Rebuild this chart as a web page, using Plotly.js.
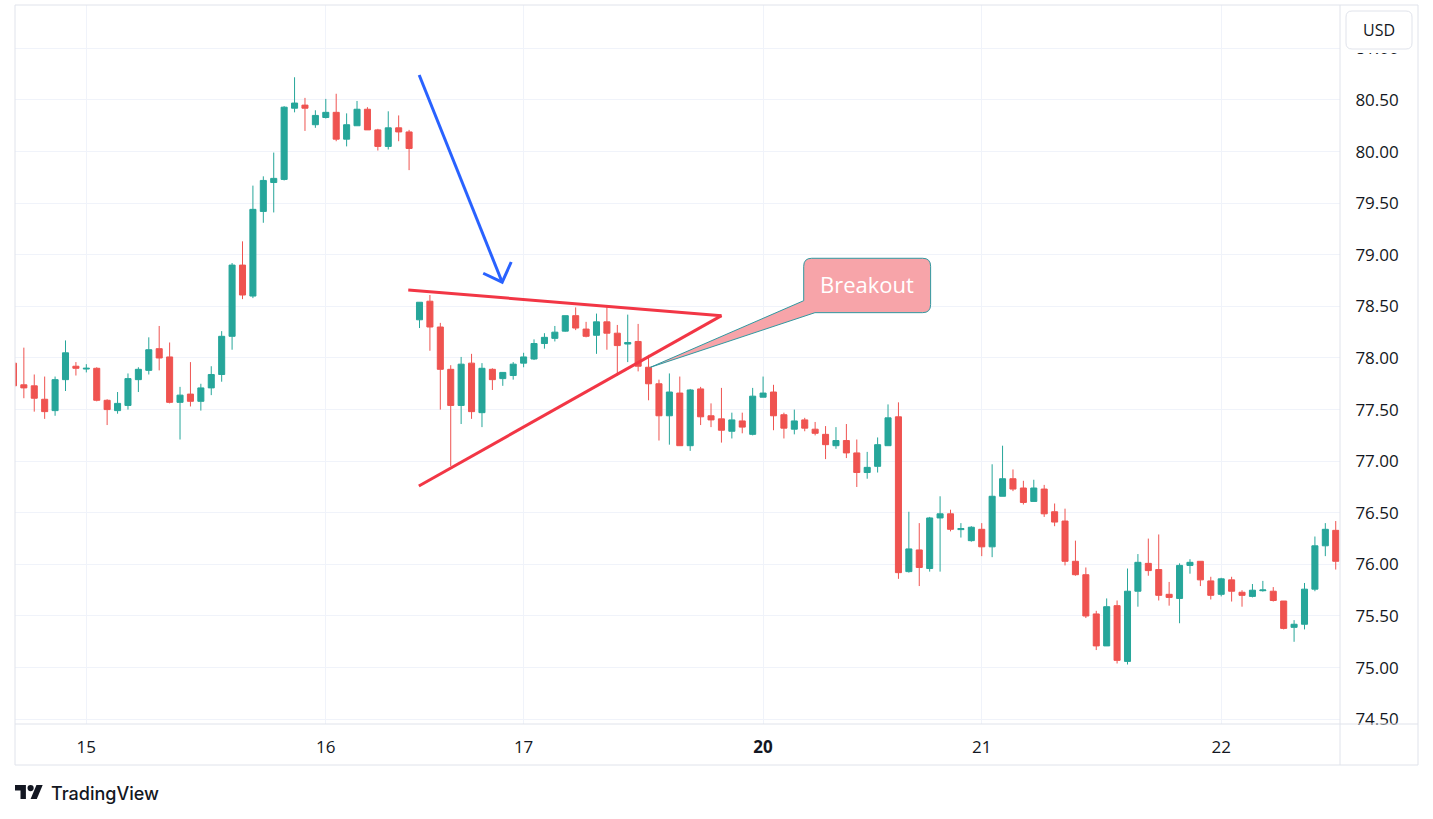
<!DOCTYPE html>
<html><head><meta charset="utf-8">
<script src="https://cdn.plot.ly/plotly-3.0.1.min.js"></script>
<style>html,body{margin:0;padding:0;background:#fff;overflow:hidden}#chart{width:1433px;height:819px}</style>
</head><body><div id="chart"></div>
<script>
// ---- data (hourly bars) ----
const barCount = 128;
const barIndex = Array.from({length: barCount}, (_, i) => i);
const openPx = [77.95,77.74,77.73,77.60,77.49,77.79,77.92,77.893,77.90,77.59,
77.49,77.54,77.79,77.88,78.09,78.01,77.57,77.65,77.58,77.71,
77.84,78.21,78.90,78.60,79.42,79.70,79.73,80.42,80.45,80.26,
80.33,80.38,80.12,80.25,80.41,80.21,80.05,80.23,80.19,78.37,
78.55,78.30,77.89,77.54,77.95,77.47,77.89,77.80,77.83,77.95,
77.99,78.14,78.19,78.26,78.41,78.28,78.22,78.35,78.24,78.135,
78.16,77.91,77.75,77.44,77.66,77.15,77.70,77.44,77.41,77.29,
77.39,77.26,77.62,77.67,77.45,77.31,77.40,77.31,77.26,77.15,
77.20,77.08,76.89,76.95,77.15,77.43,75.93,76.14,75.96,76.45,
76.49,76.337,76.23,76.34,76.17,76.66,76.83,76.74,76.61,76.73,
76.51,76.42,76.03,75.90,75.52,75.21,75.60,75.06,75.74,76.01,
75.95,75.71,75.67,75.99,76.03,75.84,75.71,75.85,75.73,75.69,
75.745,75.74,75.645,75.39,75.42,75.76,76.18,76.33];
const highPx = [77.98,78.10,77.84,77.82,77.82,78.17,77.96,77.94,77.91,77.60,
77.67,77.85,77.91,78.20,78.31,78.15,77.72,77.96,77.75,77.92,
78.26,78.92,79.13,79.67,79.76,79.99,80.44,80.72,80.52,80.40,
80.51,80.56,80.37,80.49,80.43,80.22,80.39,80.35,80.21,78.54,
78.61,78.34,77.93,78.01,78.04,77.95,77.90,77.86,77.96,78.05,
78.18,78.24,78.31,78.41,78.49,78.35,78.43,78.50,78.32,78.42,
78.33,78.03,77.79,77.85,77.82,77.70,77.72,77.56,77.71,77.47,
77.47,77.71,77.82,77.74,77.47,77.50,77.42,77.38,77.34,77.33,
77.36,77.21,77.09,77.23,77.55,77.57,76.51,76.40,76.46,76.66,
76.53,76.40,76.37,76.40,76.97,77.15,76.92,76.81,76.82,76.77,
76.59,76.54,76.23,75.97,75.55,75.67,75.65,75.96,76.10,76.25,
76.29,75.83,76.01,76.05,76.03,75.88,75.87,75.88,75.75,75.81,
75.84,75.78,75.645,75.46,75.82,76.27,76.40,76.42];
const lowPx = [77.70,77.61,77.48,77.41,77.44,77.68,77.83,77.86,77.58,77.35,
77.46,77.50,77.67,77.84,77.88,77.56,77.21,77.53,77.49,77.64,
77.77,78.08,78.57,78.58,79.31,79.41,79.72,80.38,80.20,80.23,
80.32,80.10,80.05,80.25,80.21,80.01,80.02,80.10,79.82,78.29,
78.07,77.50,76.95,77.36,77.41,77.33,77.69,77.73,77.79,77.91,
77.98,78.09,78.16,78.255,78.27,78.20,78.04,78.08,77.83,77.96,
77.87,77.59,77.20,77.16,77.15,77.10,77.35,77.33,77.18,77.22,
77.27,77.25,77.62,77.30,77.22,77.26,77.29,77.25,77.02,77.12,
77.03,76.75,76.83,76.89,77.15,75.86,75.92,75.79,75.93,75.93,
76.32,76.26,76.22,76.08,76.07,76.66,76.71,76.58,76.61,76.46,
76.37,75.99,75.89,75.48,75.17,75.21,75.04,75.03,75.59,75.89,
75.65,75.60,75.43,75.91,75.79,75.66,75.69,75.64,75.59,75.68,
75.736,75.64,75.37,75.25,75.37,75.74,76.08,75.95];
const closePx = [77.73,77.71,77.61,77.48,77.79,78.05,77.90,77.90,77.59,77.50,
77.56,77.80,77.89,78.08,78.00,77.57,77.64,77.58,77.71,77.84,
78.21,78.90,78.61,79.44,79.72,79.74,80.43,80.47,80.42,80.35,
80.38,80.12,80.26,80.41,80.21,80.05,80.23,80.19,80.03,78.54,
78.30,77.89,77.54,77.94,77.48,77.90,77.79,77.86,77.94,78.01,
78.14,78.20,78.25,78.41,78.29,78.21,78.35,78.24,78.12,78.15,
77.92,77.75,77.44,77.67,77.15,77.69,77.43,77.40,77.30,77.40,
77.33,77.63,77.66,77.44,77.32,77.39,77.32,77.27,77.16,77.20,
77.08,76.89,76.94,77.16,77.42,75.92,76.15,75.97,76.45,76.49,
76.34,76.347,76.36,76.17,76.66,76.83,76.73,76.60,76.74,76.49,
76.41,76.03,75.90,75.50,75.21,75.59,75.07,75.74,76.02,75.94,
75.70,75.68,75.99,76.02,75.85,75.70,75.86,75.74,75.70,75.75,
75.752,75.65,75.38,75.42,75.76,76.18,76.34,76.03];
const dayTickIndex = [7, 30, 49, 72, 93, 116];
const dayTickLabels = ['15', '16', '17', '<b>20</b>', '21', '22'];
const currencyLabel = 'USD';
const calloutText = 'Breakout';
const brandText = 'TradingView';

// ---- frame geometry (pixels of the page) ----
const PL = 15, PR = 1340, PT = 5, PB = 724, W = 1433, H = 819;
const px = v => (v - PL) / (PR - PL);
const py = v => (PB - v) / (PB - PT);
const poly = pts => 'M' + pts.map(p => px(p[0]) + ',' + py(p[1])).join(' L') + ' Z';
function roundRectPaper(x0, y0, x1, y1, r) {
  const rx = r / (PR - PL), ry = r / (PB - PT);
  const a = px(x0), b = px(x1), t = py(y0), u = py(y1);
  return `M${a + rx},${t} L${b - rx},${t} Q${b},${t} ${b},${t - ry} L${b},${u + ry} Q${b},${u} ${b - rx},${u} L${a + rx},${u} Q${a},${u} ${a},${u + ry} L${a},${t - ry} Q${a},${t} ${a + rx},${t} Z`;
}
const frameColor = '#E0E3EB';

// ---- drawings (in chart coordinates: bar index, price) ----
const cb = {x0: 75.90, x1: 88.09, y0: 78.439, y1: 78.966, rx: 0.77, ry: 0.0775};
const calloutPath = `M61.19,77.91 L${cb.x0},78.555 L${cb.x0},${cb.y1 - cb.ry} Q${cb.x0},${cb.y1} ${cb.x0 + cb.rx},${cb.y1} L${cb.x1 - cb.rx},${cb.y1} Q${cb.x1},${cb.y1} ${cb.x1},${cb.y1 - cb.ry} L${cb.x1},${cb.y0 + cb.ry} Q${cb.x1},${cb.y0} ${cb.x1 - cb.rx},${cb.y0} L76.98,${cb.y0} Z`;

const shapes = [
  // triangle
  {type:'line', xref:'x', yref:'y', x0:37.92, y0:78.659, x1:68.01, y1:78.41, line:{color:'#F23645', width:3}},
  {type:'line', xref:'x', yref:'y', x0:38.94, y0:76.76, x1:68.01, y1:78.41, line:{color:'#F23645', width:3}},
  // arrow
  {type:'line', xref:'x', yref:'y', x0:38.97, y0:80.742, x1:46.94, y1:78.734, line:{color:'#2962FF', width:3}},
  {type:'path', xref:'x', yref:'y', path:'M45.12,78.821 L46.94,78.734 L47.81,78.930', line:{color:'#2962FF', width:3}},
  // callout
  {type:'path', xref:'x', yref:'y', path: calloutPath, fillcolor:'#F7A4A9', line:{color:'#3098A0', width:1}},
  // frame
  {type:'rect', xref:'paper', yref:'paper', x0:px(PL), x1:px(1418), y0:py(765), y1:py(PT), line:{color:frameColor, width:1}, layer:'above'},
  {type:'line', xref:'paper', yref:'paper', x0:px(PL), x1:px(1418), y0:0, y1:0, line:{color:frameColor, width:1}, layer:'above'},
  {type:'line', xref:'paper', yref:'paper', x0:1, x1:1, y0:py(765), y1:1, line:{color:frameColor, width:1}, layer:'above'},
  // currency box
  {type:'rect', xref:'paper', yref:'paper', x0:px(1342), x1:px(1416), y0:py(53), y1:py(7), fillcolor:'#ffffff', line:{width:0}, layer:'above'},
  {type:'path', xref:'paper', yref:'paper', path: roundRectPaper(1346, 11, 1412, 49, 6), fillcolor:'#ffffff', line:{color:frameColor, width:1}, layer:'above'},
  // logo
  {type:'path', xref:'paper', yref:'paper', path: poly([[15,785],[25.9,785],[25.9,799.1],[20.5,799.1],[20.5,790.5],[15,790.5]]), fillcolor:'#131722', line:{width:0}, layer:'above'},
  {type:'circle', xref:'paper', yref:'paper', x0:px(27.5), x1:px(33.7), y0:py(791.2), y1:py(785), fillcolor:'#131722', line:{width:0}, layer:'above'},
  {type:'path', xref:'paper', yref:'paper', path: poly([[36.45,785],[42.7,785],[36.8,799.1],[30.6,799.1]]), fillcolor:'#131722', line:{width:0}, layer:'above'}
];

const annotations = [
  {xref:'x', yref:'y', x:82.0, y:78.715, xanchor:'center', yanchor:'middle', text:calloutText, showarrow:false, font:{family:'Open Sans', size:22, color:'#ffffff'}},
  {xref:'paper', yref:'paper', x:px(1379), y:py(30), xanchor:'center', yanchor:'middle', text:currencyLabel, showarrow:false, font:{family:'Open Sans', size:16, color:'#131722'}},
  {xref:'paper', yref:'paper', x:px(49), y:py(793), xanchor:'left', yanchor:'middle', text:brandText, showarrow:false, font:{family:'Inter', size:18, color:'#131722', weight:500}}
];

const trace = {
  type:'candlestick', x:barIndex, open:openPx, high:highPx, low:lowPx, close:closePx,
  increasing:{line:{color:'#26A69A', width:1}, fillcolor:'#26A69A'},
  decreasing:{line:{color:'#EF5350', width:1}, fillcolor:'#EF5350'},
  whiskerwidth:0, hoverinfo:'none'
};

const tickFont = {family:'Open Sans', size:17, color:'#131722'};
const layout = {
  width:W, height:H, margin:{l:PL, r:W - PR, t:PT, b:H - PB, pad:0},
  paper_bgcolor:'#ffffff', plot_bgcolor:'#ffffff', showlegend:false,
  boxgap:0.42, boxgroupgap:0,
  xaxis:{range:[0.15, 127.41], tickmode:'array', tickvals:dayTickIndex, ticktext:dayTickLabels,
    showgrid:true, gridcolor:'#F0F3FA', gridwidth:1, zeroline:false, showline:false,
    ticks:'outside', ticklen:8, tickcolor:'rgba(0,0,0,0)', tickfont:tickFont,
    rangeslider:{visible:false}, fixedrange:true},
  yaxis:{side:'right', range:[74.4535, 81.42], tick0:0, dtick:0.5, tickformat:'.2f',
    showgrid:true, gridcolor:'#F0F3FA', gridwidth:1, zeroline:false, showline:false,
    ticks:'outside', ticklen:11, tickcolor:'rgba(0,0,0,0)', tickfont:tickFont, fixedrange:true},
  shapes, annotations
};

Plotly.newPlot('chart', [trace], layout, {displayModeBar:false, staticPlot:true});
</script></body></html>
